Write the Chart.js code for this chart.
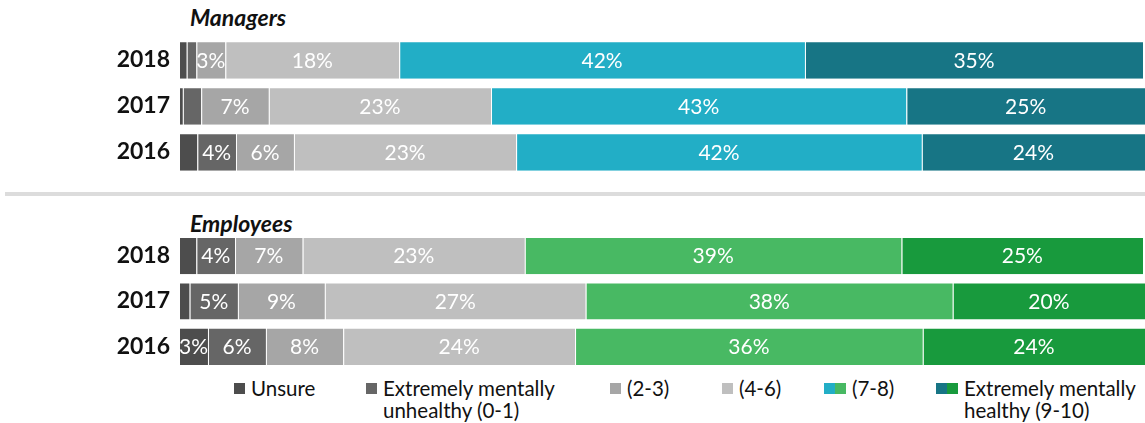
<!DOCTYPE html>
<html>
<head>
<meta charset="utf-8">
<script src="https://cdn.jsdelivr.net/npm/chart.js@4"></script>
<style>
  body { margin: 0; background: #fff; font-family: Lato, sans-serif; }
  #wrap { position: relative; width: 1145px; height: 423px; overflow: hidden; }
  canvas { position: absolute; left: 0; }
  .group-title { position: absolute; left: 190px; font: italic bold 23px Lato, sans-serif; color: #111; line-height: 24px; }
  #divider { position: absolute; left: 5px; top: 192px; width: 1140px; height: 4px; background: #dcdcdc; }
  .leg { position: absolute; top: 377px; font-size: 20.5px; line-height: 22px; color: #111; }
  .leg .sw { position: absolute; left: 0; top: 6px; height: 11px; white-space: nowrap; }
  .leg .sw span { display: inline-block; width: 11px; height: 11px; vertical-align: top; }
</style>
</head>
<body>
<div id="wrap">
  <div class="group-title" style="top:5px">Managers</div>
  <canvas id="managers-chart" width="1145" height="138" style="top:37px"></canvas>
  <div id="divider"></div>
  <div class="group-title" style="top:211px">Employees</div>
  <canvas id="employees-chart" width="1145" height="136" style="top:233px"></canvas>
  <div id="legend"></div>
</div>
<script>
// years shown top to bottom
const years = ["2018", "2017", "2016"]
const categories = ["Unsure", "Extremely mentally unhealthy (0-1)", "(2-3)", "(4-6)", "(7-8)", "Extremely mentally healthy (9-10)"]

// managers, % per year (2018, 2017, 2016)
const mgrUnsure = [0.8, 0.4, 1.9]
const mgrUnhealthy = [1.0, 1.9, 4]
const mgr23 = [3, 7, 6]
const mgr46 = [18, 23, 23]
const mgr78 = [42, 43, 42]
const mgr910 = [35, 25, 24]

// employees, % per year (2018, 2017, 2016)
const empUnsure = [1.8, 1.1, 3]
const empUnhealthy = [4, 5, 6]
const emp23 = [7, 9, 8]
const emp46 = [23, 27, 24]
const emp78 = [39, 38, 36]
const emp910 = [25, 20, 24]

const grays = ["#4d4d4d", "#666666", "#a6a6a6", "#bfbfbf"]
const teal = ["#22aec6", "#177585"]
const green = ["#48b963", "#189a3d"]

// white % labels in the middle of each segment (small ones are left blank)
const segmentLabels = {
    id: "segmentLabels",
    afterDatasetsDraw(chart) {
        const ctx = chart.ctx
        const area = chart.chartArea
        ctx.save()
        ctx.font = "21px Lato"
        ctx.fillStyle = "#ffffff"
        ctx.textAlign = "center"
        ctx.textBaseline = "middle"
        chart.data.datasets.forEach((ds, i) => {
            chart.getDatasetMeta(i).data.forEach((bar, j) => {
                const v = ds.data[j]
                if (v < 3) return
                const right = Math.min(bar.x, area.right)
                ctx.fillText(v + "%", (bar.base + right) / 2, bar.y + 1)
            })
        })
        ctx.restore()
    }
}

function makeChart(id, series, hi) {
    const colors = grays.concat(hi)
    return new Chart(id, {
        type: "bar",
        data: {
            labels: years,
            datasets: series.map((d, i) => ({
                label: categories[i],
                data: d,
                backgroundColor: colors[i],
                borderColor: "rgba(255,255,255,0.55)",
                borderWidth: { left: 1, right: 0, top: 1, bottom: 0 },
                borderSkipped: false,
                barPercentage: 0.82,
                categoryPercentage: 1
            }))
        },
        options: {
            indexAxis: "y",
            responsive: false,
            animation: false,
            devicePixelRatio: 1,
            layout: { padding: 0 },
            plugins: { legend: { display: false }, tooltip: { enabled: false } },
            scales: {
                x: { stacked: true, min: 0, max: 100, display: false },
                y: {
                    stacked: true,
                    grid: { display: false, drawTicks: false },
                    border: { display: false },
                    ticks: { padding: 9, color: "#111111", font: { family: "Lato", size: 23, weight: "bold" } },
                    // fixed label column, and no extra room above/below the rows
                    afterFit(scale) {
                        scale.width = 179
                        scale.paddingTop = 0
                        scale.paddingBottom = 0
                    }
                }
            }
        },
        plugins: [segmentLabels]
    })
}

makeChart("managers-chart", [mgrUnsure, mgrUnhealthy, mgr23, mgr46, mgr78, mgr910], teal)
makeChart("employees-chart", [empUnsure, empUnhealthy, emp23, emp46, emp78, emp910], green)

// legend, built by hand because of the two-colour swatches
const legendText = ["Unsure", "Extremely mentally<br>unhealthy (0-1)", "(2-3)", "(4-6)", "(7-8)", "Extremely mentally<br>healthy (9-10)"]
const legendSwatches = [[grays[0]], [grays[1]], [grays[2]], [grays[3]], [teal[0], green[0]], [teal[1], green[1]]]
const legendLeft = [234, 366, 610, 722, 824, 936]
const legend = document.getElementById("legend")
legendText.forEach((t, i) => {
    const item = document.createElement("div")
    item.className = "leg"
    const swW = legendSwatches[i].length * 11
    item.style.left = legendLeft[i] + "px"
    item.style.paddingLeft = (swW + 6) + "px"
    item.innerHTML = '<div class="sw">' + legendSwatches[i].map(c => '<span style="background:' + c + '"></span>').join("") + "</div>" + t
    legend.appendChild(item)
})
</script>
</body>
</html>
